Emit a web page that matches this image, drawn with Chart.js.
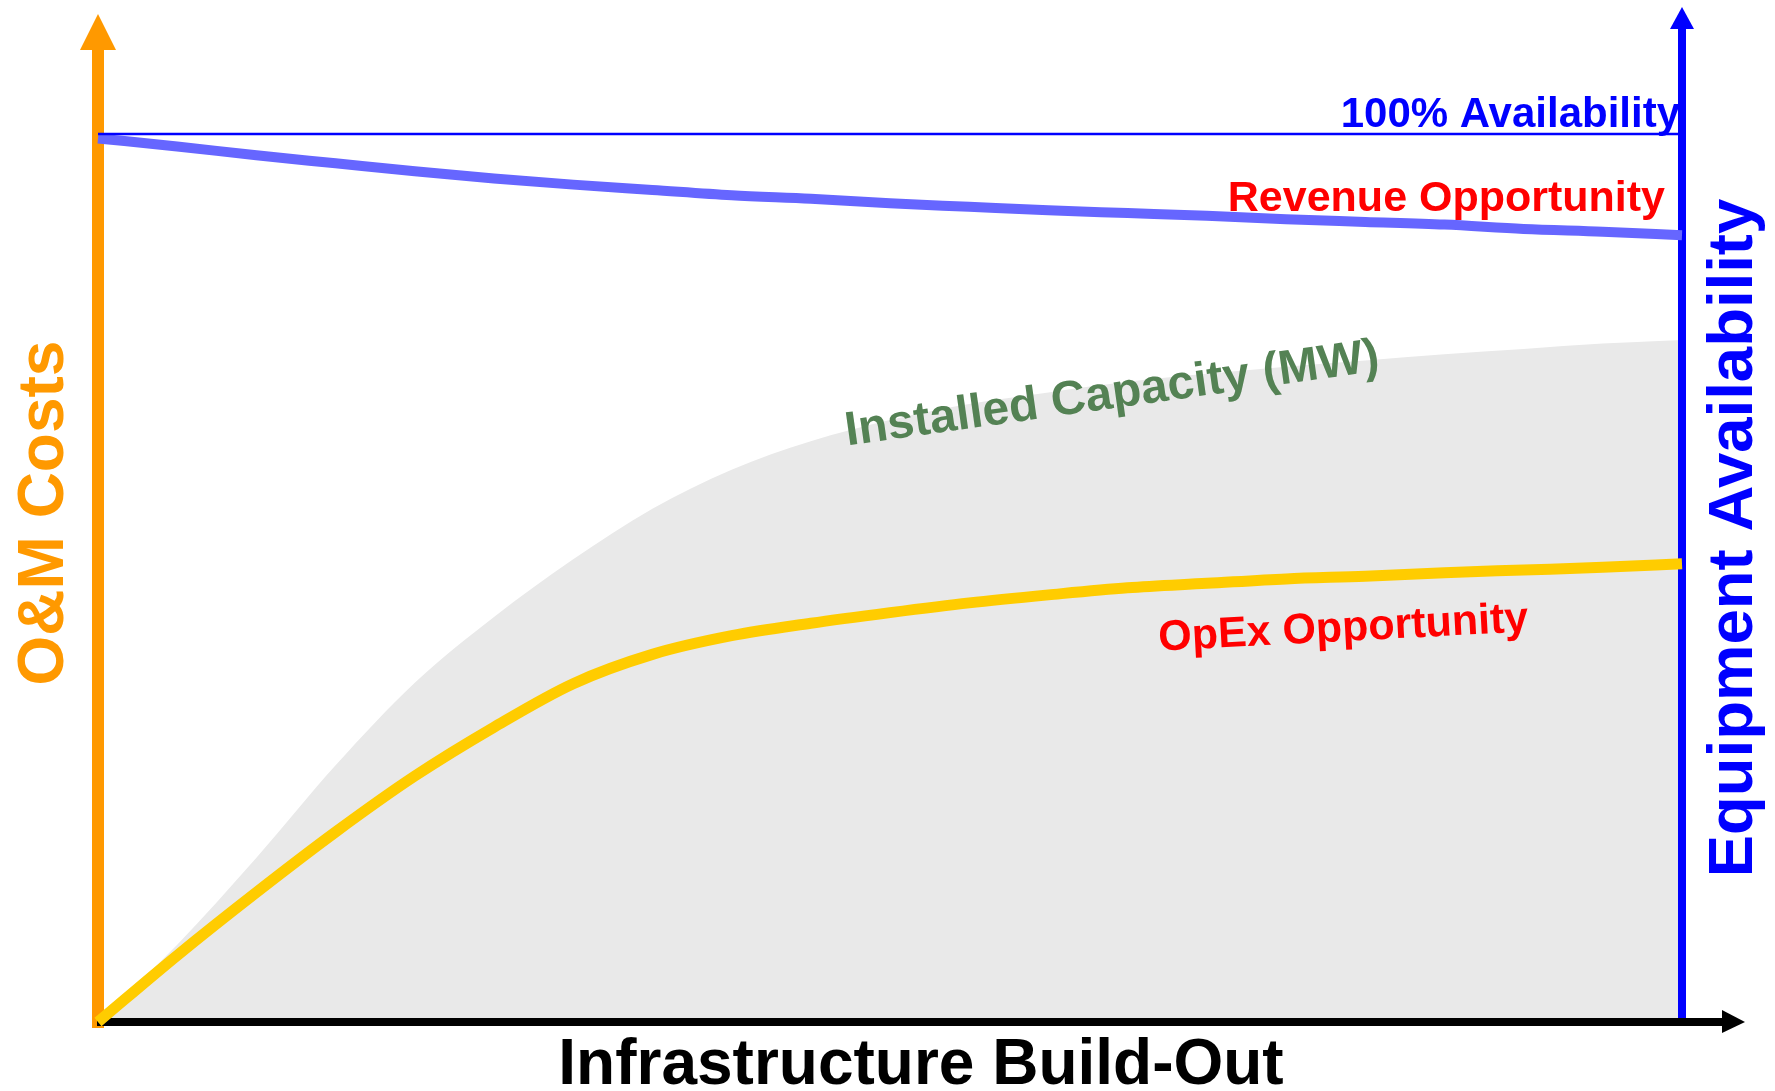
<!DOCTYPE html>
<html>
<head>
<meta charset="utf-8">
<title>O&amp;M Costs vs Infrastructure Build-Out</title>
<script src="https://cdn.jsdelivr.net/npm/chart.js@4.4.1/dist/chart.umd.min.js"></script>
<style>
    html, body { margin: 0; padding: 0; background: #ffffff; }
    #wrap { width: 1775px; height: 1091px; }
</style>
</head>
<body>
<div id="wrap"><canvas id="om-chart" width="1775" height="1091"></canvas></div>
<script>
// Conceptual chart: values are % of the axis range (0 = origin, 100 = 100% availability)
const buildOut = [0, 5, 10, 15, 20, 25, 30, 35, 40, 45, 50, 55, 60, 65, 70, 75, 80, 85, 90, 95, 100];
const installedCapacity = [0, 8.7, 18.5, 28.9, 38.2, 45.6, 52.1, 57.8, 62.2, 65.4, 67.8, 69.6, 70.9, 72.1, 73.0, 73.8, 74.5, 75.2, 75.8, 76.4, 76.8];
const omCosts = [0, 7.5, 14.6, 21.4, 27.7, 33.2, 38.1, 41.4, 43.5, 44.9, 46.1, 47.2, 48.1, 48.9, 49.4, 49.9, 50.2, 50.6, 50.9, 51.2, 51.6];
const availability = [99.5, 98.6, 97.6, 96.7, 95.8, 95.0, 94.3, 93.7, 93.1, 92.7, 92.2, 91.8, 91.4, 91.1, 90.8, 90.4, 90.1, 89.8, 89.3, 89.0, 88.6];
const fullAvailabilityX = [0, 100];
const fullAvailability = [100, 100];

const FONT = '"Liberation Sans", Arial, Helvetica, sans-serif';

function points(xs, ys) {
    return xs.map((v, i) => ({ x: v, y: ys[i] }));
}

// axes with arrow heads, drawn right after the grey area so the curves sit on top
const arrowAxes = {
    id: 'arrowAxes',
    afterDatasetDraw(chart, args) {
        if (chart.data.datasets[args.index].label !== 'Installed Capacity (MW)') return;
        const ctx = chart.ctx;
        const xs = chart.scales.x, ys = chart.scales.y;
        const x0 = xs.getPixelForValue(0);
        const x1 = xs.getPixelForValue(100);
        const y0 = ys.getPixelForValue(0);

        ctx.save();
        // right axis (equipment availability)
        ctx.fillStyle = '#0000ff';
        ctx.fillRect(x1 - 4, 29, 8, y0 - 4 - 29);
        ctx.beginPath();
        ctx.moveTo(x1 - 12, 29); ctx.lineTo(x1, 7); ctx.lineTo(x1 + 12, 29);
        ctx.closePath(); ctx.fill();

        // left axis (O&M costs)
        ctx.fillStyle = '#ff9900';
        ctx.fillRect(x0 - 6, 50, 12, y0 + 6 - 50);
        ctx.beginPath();
        ctx.moveTo(x0 - 18, 50); ctx.lineTo(x0, 14); ctx.lineTo(x0 + 18, 50);
        ctx.closePath(); ctx.fill();

        // bottom axis (build-out)
        ctx.fillStyle = '#000000';
        ctx.fillRect(x0 - 1, y0 - 4, (x1 + 40) - (x0 - 1), 8);
        ctx.beginPath();
        ctx.moveTo(x1 + 40, y0 - 12); ctx.lineTo(x1 + 63, y0); ctx.lineTo(x1 + 40, y0 + 11);
        ctx.closePath(); ctx.fill();
        ctx.restore();
    },
    afterDraw(chart) {
        const ctx = chart.ctx;

        function label(text, x, y, opts) {
            ctx.save();
            ctx.translate(x, y);
            ctx.rotate((opts.angle || 0) * Math.PI / 180);
            ctx.font = 'bold ' + opts.size + 'px ' + FONT;
            ctx.fillStyle = opts.color;
            ctx.textAlign = opts.align || 'center';
            ctx.textBaseline = 'alphabetic';
            ctx.fillText(text, 0, 0);
            ctx.restore();
        }

        label('100% Availability', 1680, 127, { size: 42, color: '#0000ff', align: 'right' });
        label('Revenue Opportunity', 1665, 211, { size: 43, color: '#ff0000', align: 'right' });
        label('Installed Capacity (MW)', 1114, 408, { size: 48, color: '#548254', angle: -8 });
        label('OpEx Opportunity', 1344, 641, { size: 43, color: '#ff0000', angle: -3 });
        label('O&M Costs', 63, 513, { size: 64, color: '#ff9900', angle: -90 });
        label('Equipment Availability', 1752, 538, { size: 63.5, color: '#0000ff', angle: -90 });
        label('Infrastructure Build-Out', 921, 1084, { size: 64, color: '#000000' });
    }
};

const ctx = document.getElementById('om-chart').getContext('2d');

new Chart(ctx, {
    type: 'line',
    data: {
        datasets: [
            {
                label: '100% Availability',
                data: points(fullAvailabilityX, fullAvailability),
                borderColor: '#0000ff',
                borderWidth: 2.5,
                pointRadius: 0,
                clip: false
            },
            {
                label: 'Revenue Opportunity',
                data: points(buildOut, availability),
                borderColor: '#6666ff',
                borderWidth: 10,
                pointRadius: 0,
                cubicInterpolationMode: 'monotone',
                clip: false
            },
            {
                label: 'OpEx Opportunity',
                data: points(buildOut, omCosts),
                borderColor: '#ffcc00',
                borderWidth: 11,
                pointRadius: 0,
                cubicInterpolationMode: 'monotone',
                clip: false
            },
            {
                label: 'Installed Capacity (MW)',
                data: points(buildOut, installedCapacity),
                borderWidth: 0,
                borderColor: 'rgba(0,0,0,0)',
                backgroundColor: '#e9e9e9',
                fill: 'origin',
                pointRadius: 0,
                cubicInterpolationMode: 'monotone'
            }
        ]
    },
    options: {
        responsive: false,
        animation: false,
        devicePixelRatio: 1,
        layout: {
            padding: { left: 98, right: 93, top: 134, bottom: 69 }
        },
        scales: {
            x: { type: 'linear', min: 0, max: 100, display: false },
            y: { type: 'linear', min: 0, max: 100, display: false }
        },
        plugins: {
            legend: { display: false },
            tooltip: { enabled: false }
        }
    },
    plugins: [arrowAxes]
});
</script>
</body>
</html>
